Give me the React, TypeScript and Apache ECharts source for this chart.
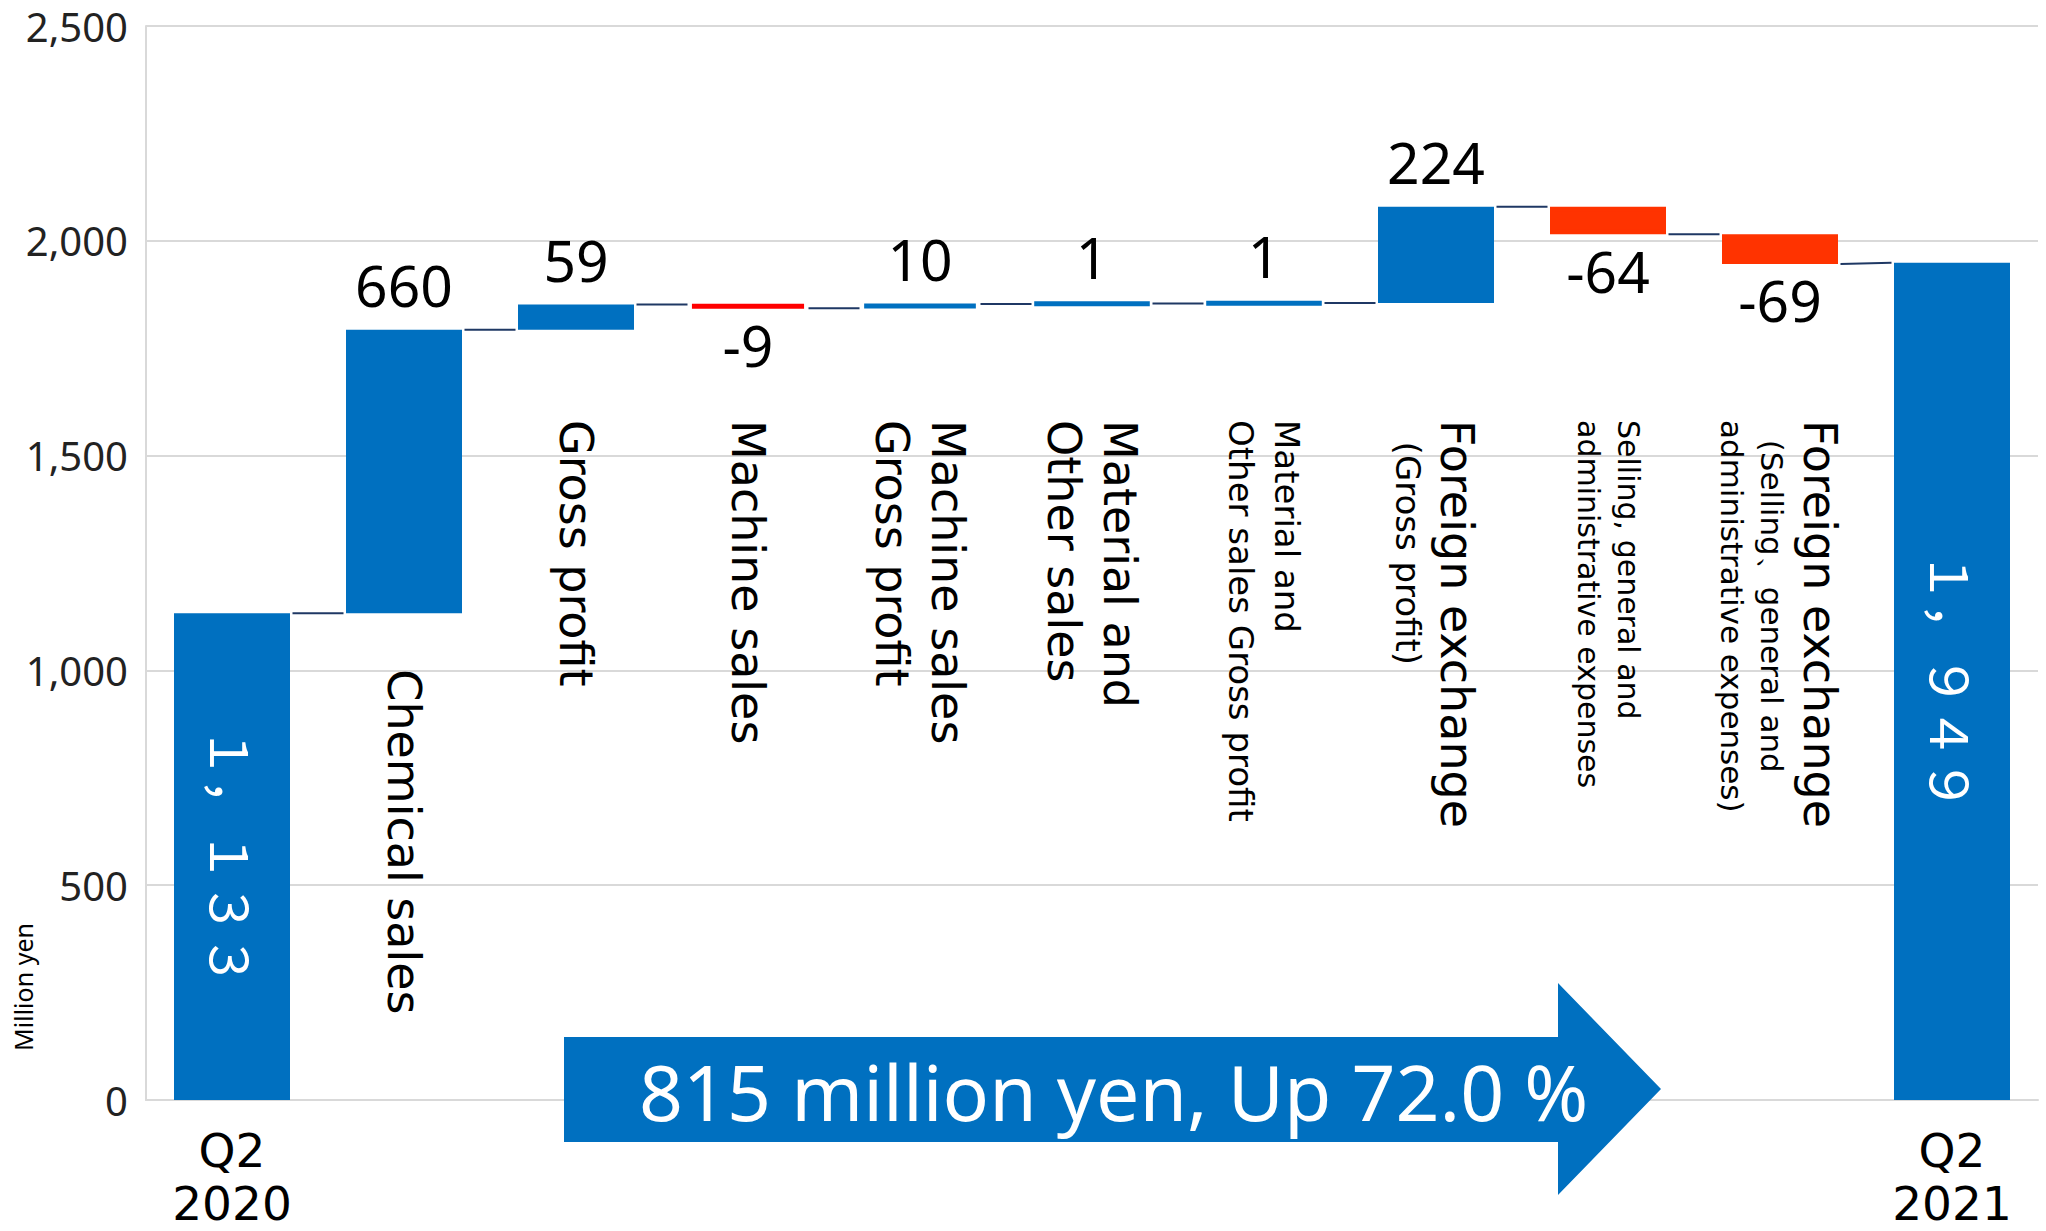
import React, { useEffect, useRef } from "react";
import * as echarts from "echarts";

// ---------- data ----------
const CATEGORIES = [
  "Q2 2020",
  "Chemical sales",
  "Gross profit",
  "Machine sales",
  "Machine sales Gross profit",
  "Material and Other sales",
  "Material and Other sales Gross profit",
  "Foreign exchange (Gross profit)",
  "Selling, general and administrative expenses",
  "Foreign exchange (Selling、general and administrative expenses)",
  "Q2 2021",
];
const AXIS_LABELS = ["Q2\n2020", "", "", "", "", "", "", "", "", "", "Q2\n2021"];
const START_TOTAL = 1133;
const END_TOTAL = 1949;
const DELTAS = [660, 59, -9, 10, 1, 1, 224, -64, -69];
const TOTAL_LABELS = ["１，１３３", "１，９４９"];
const Y_MIN = 0;
const Y_MAX = 2500;
const Y_STEP = 500;
const Y_NAME = "Million yen";
const ARROW_TEXT = "815 million yen, Up 72.0 %";

// category text lines drawn inside the plot (s = size key)
const LABEL_LINES: { t: string; s: string }[][] = [
  [],
  [{ t: "Chemical sales", s: "big" }],
  [{ t: "Gross profit", s: "big" }],
  [{ t: "Machine sales", s: "big" }],
  [{ t: "Machine sales", s: "big" }, { t: "Gross profit", s: "big" }],
  [{ t: "Material and", s: "big" }, { t: "Other sales", s: "big" }],
  [{ t: "Material and", s: "mid" }, { t: "Other sales Gross profit", s: "mid" }],
  [{ t: "Foreign exchange", s: "big" }, { t: "  (Gross profit)", s: "sub2" }],
  [{ t: "Selling, general and", s: "small" }, { t: "administrative expenses", s: "small" }],
  [
    { t: "Foreign exchange", s: "big" },
    { t: "  (Selling、general and", s: "sub" },
    { t: "administrative expenses)", s: "sub" },
  ],
  [],
];

// ---------- styles ----------
const BLUE = "#0070C0";
const RED = "#FF0000";
const ORANGE_RED = "#FF3300";
const SPECIAL_NEG: Record<number, string> = { 3: RED };
const BAR_W = 116;
const BORDER = 5;
const LABEL_TOP_Y = 420;
const GRID = { left: 146, right: 8, top: 26, bottom: 131, outerBoundsMode: "none" };

const RICH = {
  big: { fontSize: 46, lineHeight: 56, fontFamily: "DejaVu Sans", fill: "#000" },
  mid: { fontSize: 34, lineHeight: 46, fontFamily: "DejaVu Sans", fill: "#000" },
  small: { fontSize: 30, lineHeight: 40, fontFamily: "DejaVu Sans", fill: "#000" },
  sub: { fontSize: 31, lineHeight: 40, fontFamily: "DejaVu Sans", fill: "#000" },
  sub2: { fontSize: 34, lineHeight: 42, fontFamily: "DejaVu Sans", fill: "#000" },
};

function buildWaterfall() {
  const n = CATEGORIES.length;
  const base: number[] = [];
  const height: number[] = [];
  const startV: number[] = [];
  const endV: number[] = [];
  base.push(0);
  height.push(START_TOTAL);
  startV.push(0);
  endV.push(START_TOTAL);
  let run = START_TOTAL;
  DELTAS.forEach((d) => {
    const s = run;
    const e = run + d;
    base.push(Math.min(s, e));
    height.push(Math.abs(d));
    startV.push(s);
    endV.push(e);
    run = e;
  });
  base.push(0);
  height.push(END_TOTAL);
  startV.push(END_TOTAL);
  endV.push(END_TOTAL);
  const connectors: number[][] = [];
  for (let i = 0; i < n - 1; i++) {
    const to = i + 1 === n - 1 ? END_TOTAL : startV[i + 1];
    connectors.push([i, endV[i], to]);
  }
  return { base, height, connectors };
}

export default function App() {
  const ref = useRef<HTMLDivElement>(null);

  useEffect(() => {
    document.body.style.margin = "0";
    if (!ref.current) return;
    const chart = echarts.init(ref.current, undefined, { renderer: "svg" });
    const { base, height, connectors } = buildWaterfall();
    const n = CATEGORIES.length;

    const barItems = height.map((h, i) => {
      const isTotal = i === 0 || i === n - 1;
      const d = isTotal ? 0 : DELTAS[i - 1];
      const color = isTotal || d >= 0 ? BLUE : SPECIAL_NEG[i] || ORANGE_RED;
      const label = isTotal
        ? {
            show: true,
            position: "inside",
            rotate: -90,
            color: "#fff",
            fontSize: 52,
            fontFamily: "Noto Sans CJK JP",
            formatter: () => (i === 0 ? TOTAL_LABELS[0] : TOTAL_LABELS[1]),
          }
        : {
            show: true,
            position: d >= 0 ? "top" : "bottom",
            distance: d >= 0 ? 16 : 8,
            color: "#000",
            fontSize: 57,
            lineHeight: 57,
            fontFamily: "Noto Sans",
            formatter: () => String(d),
          };
      return {
        value: h,
        itemStyle: { color, borderColor: color, borderWidth: BORDER },
        label,
      };
    });

    const labelData = LABEL_LINES.map((lines, i) => [i, base[i]]).filter(
      (_, i) => LABEL_LINES[i].length > 0
    );

    chart.setOption({
      animation: false,
      textStyle: { fontFamily: "Noto Sans" },
      grid: GRID,
      xAxis: {
        type: "category",
        data: CATEGORIES,
        axisTick: { show: false },
        axisLine: { lineStyle: { color: "#D9D9D9", width: 2 } },
        axisLabel: {
          interval: 0,
          margin: 24,
          fontSize: 47,
          lineHeight: 53,
          fontFamily: "DejaVu Sans",
          color: "#000",
          formatter: (_v: string, idx: number) => AXIS_LABELS[idx],
        },
      },
      yAxis: {
        type: "value",
        min: Y_MIN,
        max: Y_MAX,
        interval: Y_STEP,
        axisLine: { show: true, lineStyle: { color: "#D9D9D9", width: 2 } },
        splitLine: { lineStyle: { color: "#D9D9D9", width: 2 } },
        axisLabel: {
          fontSize: 40,
          color: "#222",
          margin: 18,
          fontFamily: "Noto Sans",
          formatter: (v: number) => v.toLocaleString("en-US"),
        },
      },
      graphic: [
        {
          type: "text",
          x: 23,
          y: 987,
          rotation: Math.PI / 2,
          style: {
            text: Y_NAME,
            fontSize: 25,
            fontFamily: "Noto Sans",
            fill: "#000",
            align: "center",
            verticalAlign: "middle",
          },
        },
        {
          type: "polygon",
          z: 50,
          shape: {
            points: [
              [564, 1037],
              [1558, 1037],
              [1558, 983],
              [1661, 1089],
              [1558, 1195],
              [1558, 1142],
              [564, 1142],
            ],
          },
          style: { fill: BLUE },
        },
        {
          type: "text",
          z: 51,
          x: 639,
          y: 1091,
          style: {
            text: ARROW_TEXT,
            fontSize: 77,
            fontFamily: "Noto Sans",
            fill: "#fff",
            align: "left",
            verticalAlign: "middle",
          },
        },
      ],
      series: [
        {
          type: "bar",
          stack: "wf",
          silent: true,
          barWidth: BAR_W,
          itemStyle: { color: "transparent" },
          data: base,
        },
        {
          type: "bar",
          stack: "wf",
          barWidth: BAR_W,
          data: barItems,
        },
        {
          type: "custom",
          silent: true,
          z: 1,
          data: connectors,
          renderItem: (_params: any, api: any) => {
            const i = api.value(0);
            const p1 = api.coord([i, api.value(1)]);
            const p2 = api.coord([i + 1, api.value(2)]);
            const hw = BAR_W / 2 + BORDER / 2;
            return {
              type: "line",
              shape: { x1: p1[0] + hw, y1: p1[1], x2: p2[0] - hw, y2: p2[1] },
              style: { stroke: "#1F3864", lineWidth: 2 },
            };
          },
        },
        {
          type: "custom",
          silent: true,
          z: 5,
          data: labelData,
          renderItem: (_params: any, api: any) => {
            const i = api.value(0);
            const x = api.coord([i, 0])[0];
            const by = api.coord([i, api.value(1)])[1];
            const y = Math.max(LABEL_TOP_Y, by + 56);
            const text = LABEL_LINES[i].map((l) => `{${l.s}|${l.t}}`).join("\n");
            return {
              type: "text",
              x,
              y,
              rotation: -Math.PI / 2,
              style: {
                text,
                rich: RICH,
                align: "left",
                verticalAlign: "middle",
                fill: "#000",
              },
            };
          },
        },
      ],
    });

    return () => chart.dispose();
  }, []);

  return <div ref={ref} style={{ width: 2046, height: 1231 }} />;
}
